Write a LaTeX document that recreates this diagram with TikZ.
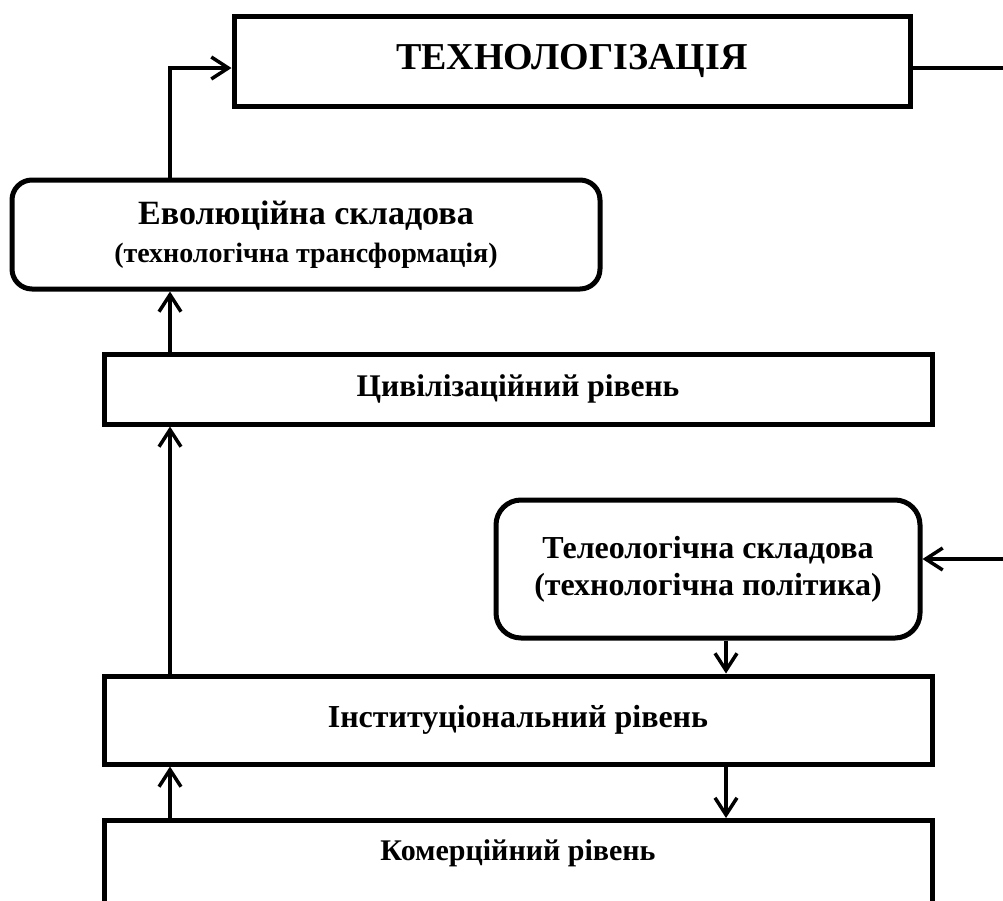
\documentclass[tikz,border=0pt]{standalone}
\usepackage{fontspec}
\setmainfont{Liberation Serif}
\usetikzlibrary{arrows.meta,calc}
\begin{document}
\begin{tikzpicture}[x=1pt,y=-1pt,
  box/.style={draw,line width=5pt,inner sep=0pt,align=center},
  rbox/.style={box,rounded corners=20pt},
  arr/.style={line width=3.5pt,-{Straight Barb[length=17pt,width=22pt,line width=3.5pt]}},
  ln/.style={line width=3.5pt}]
\clip (0,0) rectangle (1003,900);
\fill[white] (0,0) rectangle (1003,900);
\node[box,minimum width=676pt,minimum height=90pt,font=\bfseries\fontsize{38}{44}\selectfont] (tech) at (572,61) {ТЕХНОЛОГІЗАЦІЯ};
\node[rbox,minimum width=588pt,minimum height=109pt,font=\bfseries\fontsize{34}{38}\selectfont] (evol) at (306,234.5)
  {Еволюційна складова\\{\fontsize{28}{38}\selectfont (технологічна трансформація)}};
\node[box,minimum width=828pt,minimum height=70pt,font=\bfseries\fontsize{31.5}{36}\selectfont] (civ) at (518,389) {Цивілізаційний рівень};
\node[rbox,rounded corners=25pt,minimum width=424pt,minimum height=138pt,font=\bfseries\fontsize{32}{37}\selectfont] (tel) at (708,569)
  {Телеологічна складова\\(технологічна політика)};
\node[box,minimum width=828pt,minimum height=88pt,font=\bfseries\fontsize{32}{36}\selectfont] (inst) at (518,720) {Інституціональний рівень};
\node[box,minimum width=828pt,minimum height=162pt,anchor=north] (kom) at (518,818) {};
\node[font=\bfseries\fontsize{30}{36}\selectfont,inner sep=0pt] (komt) at (518,853) {Комерційний рівень};
\coordinate (xl) at (170,0);
\coordinate (xr) at (726,0);
\coordinate (rend) at (1010,68);
\coordinate (rin) at (1010,559);
\draw[arr] (evol.north -| xl) |- ([yshift=-7pt]tech.west);
\draw[ln] ([yshift=-7pt]tech.east) -- (rend);
\draw[arr] (civ.north -| xl) -- (evol.south -| xl);
\draw[arr] (inst.north -| xl) -- (civ.south -| xl);
\draw[arr] (kom.north -| xl) -- (inst.south -| xl);
\draw[arr] (tel.south -| xr) -- (inst.north -| xr);
\draw[arr] (inst.south -| xr) -- (kom.north -| xr);
\draw[arr] (rin) -- (rin -| tel.east);
\end{tikzpicture}
\end{document}
